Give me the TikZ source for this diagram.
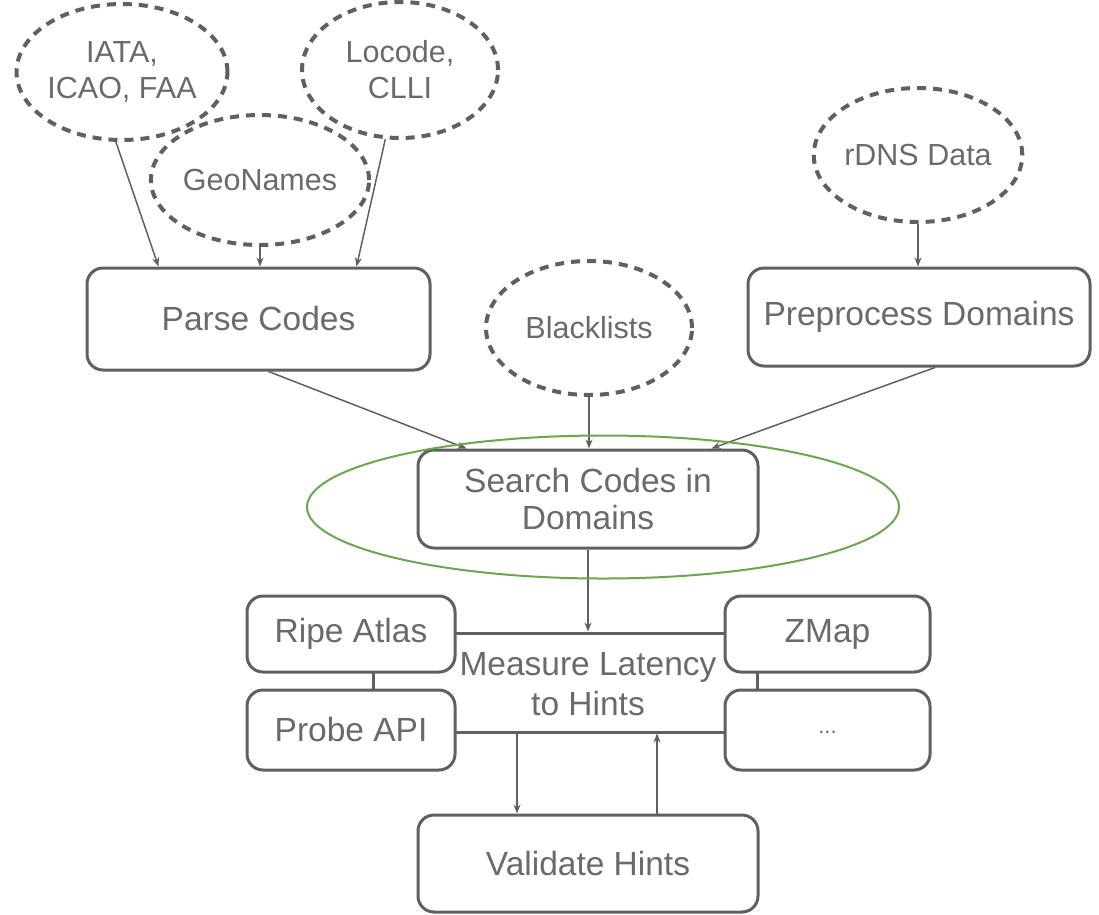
\documentclass[tikz,border=0pt]{standalone}
\usepackage{fontspec}
\setmainfont{Liberation Sans}
\usetikzlibrary{arrows.meta,shapes.geometric}

\definecolor{linegray}{HTML}{606060}
\definecolor{textgray}{HTML}{6A6A6A}
\definecolor{focusgreen}{HTML}{6AA84F}

\begin{document}
\begin{tikzpicture}[x=1pt, y=-1pt,
  stepbox/.style={draw=linegray, line width=3pt, rounded corners=16pt, fill=white,
    text=textgray, align=center, inner sep=0pt, font=\fontsize{33.5}{37}\selectfont},
  source/.style={ellipse, draw=linegray, line width=4pt, dash pattern=on 9pt off 7pt,
    fill=none, text=textgray, align=center, inner sep=0pt, font=\fontsize{30.5}{36}\selectfont},
  flow/.style={draw=linegray, line width=1.5pt, -{Stealth[length=9pt,width=7pt]}},
  linkframe/.style={draw=linegray, line width=3pt}]
\useasboundingbox (0,0) rectangle (1099,914);
\node[source, minimum width=200, minimum height=136] (iata) at (122,72) {IATA,\\ICAO, FAA};
\node[source, minimum width=196, minimum height=136] (locode) at (400,70) {Locode,\\CLLI};
\node[source, minimum width=206, minimum height=130] (geo) at (260,180) {GeoNames};
\node[source, minimum width=206, minimum height=134] (rdns) at (918,155) {rDNS Data};
\node[source, minimum width=206, minimum height=134] (black) at (589,328) {Blacklists};
\node[stepbox, minimum width=343, minimum height=102] (parse) at (258.5,319) {Parse Codes};
\node[stepbox, minimum width=342, minimum height=98] (prep) at (919,317) {Preprocess Domains};
\node[stepbox, minimum width=340, minimum height=98] (search) at (588,499) {Search Codes in\\Domains};
\node[linkframe, minimum width=384, minimum height=99, inner sep=0pt] (measure) at (565,682.5) {};
\node[stepbox, minimum width=208, minimum height=76] (ripe) at (351,634) {Ripe Atlas};
\node[stepbox, minimum width=208, minimum height=80] (probe) at (351,730) {Probe API};
\node[stepbox, minimum width=205, minimum height=76] (zmap) at (827.5,634) {ZMap};
\node[stepbox, minimum width=205, minimum height=80, font=\fontsize{22}{26}\selectfont] (more) at (827.5,730) {\raisebox{-6pt}{...}};
\node[text=textgray, align=center, font=\fontsize{33.5}{40}\selectfont] (measurelbl) at (588,684) {Measure Latency\\to Hints};
\node[stepbox, minimum width=340, minimum height=97] (validate) at (588,863.5) {Validate Hints};
\draw[flow] (iata.-95) -- ([xshift=73pt]parse.north west);
\draw[flow] (geo.south) -- (geo.south |- parse.north);
\draw[flow] (locode.-102) -- ([xshift=-75pt]parse.north east);
\draw[flow] (rdns.south) -- (rdns.south |- prep.north);
\draw[flow] ([xshift=10pt]parse.south) -- ([xshift=50pt]search.north west);
\draw[flow] (black.south) -- (black.south |- search.north);
\draw[flow] ([xshift=16pt]prep.south) -- ([xshift=-48pt]search.north east);
\draw[flow] (search.south) -- (search.south |- measure.north);
\draw[flow] ([xshift=-71pt]validate.north |- measure.south) -- ([xshift=-71pt]validate.north);
\draw[flow] ([xshift=69pt]validate.north) -- ([xshift=69pt]validate.north |- measure.south);
\node[ellipse, draw=focusgreen, line width=2pt, minimum width=592, minimum height=143, inner sep=0pt] (focus) at (603,507) {};
\end{tikzpicture}
\end{document}
